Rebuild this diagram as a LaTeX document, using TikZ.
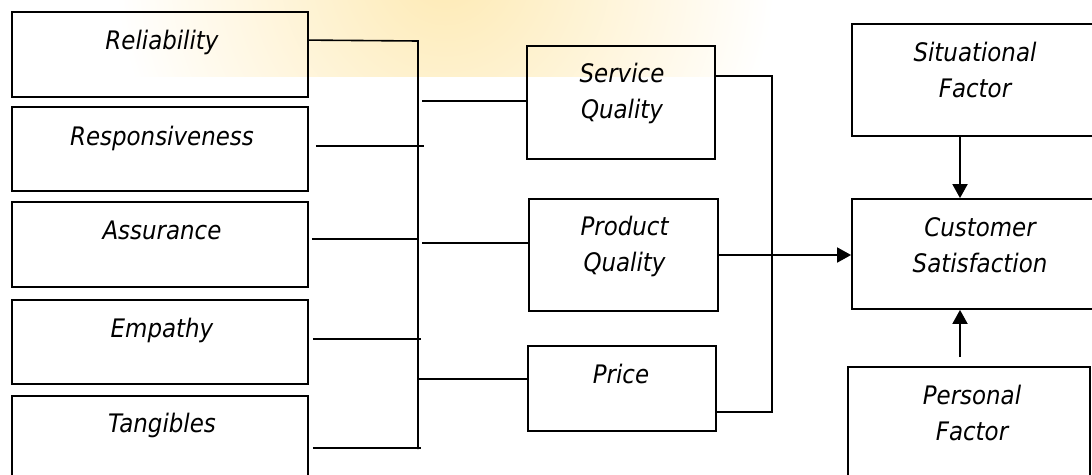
\documentclass[tikz,border=0pt]{standalone}
\usepackage{fontspec}
\setmainfont{DejaVu Sans Condensed}
\usetikzlibrary{arrows.meta,calc}
\definecolor{glowc}{RGB}{254,234,180}
\tikzset{
  box/.style={draw, line width=1.8pt, rectangle, inner sep=0pt},
  lbl/.style={anchor=base, inner sep=0pt, text width=260pt, align=center,
    font=\fontsize{25.5pt}{36.5pt}\selectfont\itshape},
  conn/.style={line width=1.6pt},
  arr/.style={line width=1.8pt, -{Triangle[length=14pt,width=15pt]}}
}
\begin{document}
\begin{tikzpicture}[x=1pt,y=-1pt]
\clip (0,0) rectangle (1092,474);
\useasboundingbox (0,0) rectangle (1092,474);
% background glow
\begin{scope}
\clip (110,0) rectangle (790,76);
\shade[inner color=glowc, outer color=white] (445,-30) circle [radius=330];
\end{scope}
% left boxes
\node[box, minimum width=296pt, minimum height=85pt] (rel)  at (160,54.5) {};
\node[box, minimum width=296pt, minimum height=84pt] (resp) at (160,149) {};
\node[box, minimum width=296pt, minimum height=85pt] (assu) at (160,244.5) {};
\node[box, minimum width=296pt, minimum height=84pt] (emp)  at (160,342) {};
\node[box, minimum width=296pt, minimum height=85pt] (tang) at (160,438.5) {};
% middle boxes
\node[box, minimum width=188pt, minimum height=113pt] (sq) at (621,102.5) {};
\node[box, minimum width=189pt, minimum height=112pt] (pq) at (623.5,255) {};
\node[box, minimum width=188pt, minimum height=85pt]  (pr) at (622,388.5) {};
% right boxes
\node[box, minimum width=256pt, minimum height=112pt] (sf) at (980,80) {};
\node[box, minimum width=256pt, minimum height=110pt] (cs) at (980,254) {};
\node[box, minimum width=242pt, minimum height=110pt] (pf) at (969,422) {};
% labels
\node[lbl] at ($(rel.north)+(2,38)$)  {Reliability};
\node[lbl] at ($(resp.north)+(2,39)$) {Responsiveness};
\node[lbl] at ($(assu.north)+(2,38)$) {Assurance};
\node[lbl] at ($(emp.north)+(2,38)$)  {Empathy};
\node[lbl] at ($(tang.north)+(2,37)$) {Tangibles};
\node[lbl] at ($(sq.north)+(1,37)$) {Service\\Quality};
\node[lbl] at ($(pq.north)+(1,37)$) {Product\\Quality};
\node[lbl] at ($(pr.north)+(-1,38)$) {Price};
\node[lbl] at ($(sf.north)+(-5,38)$) {Situational\\Factor};
\node[lbl] at ($(cs.north)+(0,38)$) {Customer\\Satisfaction};
\node[lbl] at ($(pf.north)+(3,38)$) {Personal\\Factor};
% left bus
\coordinate (bt) at (418,41);
\coordinate (bb) at (418,449);
\draw[conn] ($(rel.north east)+(0,29)$) -- (bt) -- (bb);
\draw[conn] ($(resp.north east)+(7,40)$) -- +(108,0);
\draw[conn] ($(assu.north east)+(3,38)$) -- +(107,0);
\draw[conn] ($(emp.north east)+(4,40)$) -- +(108,0);
\draw[conn] ($(tang.north east)+(4,53)$) -- +(108,0);
% bus to middle boxes
\coordinate (m1) at (422,101);
\coordinate (m2) at (422,243);
\coordinate (m3) at (418,379);
\draw[conn] (m1) -- (m1 -| sq.west);
\draw[conn] (m2) -- (m2 -| pq.west);
\draw[conn] (m3) -- (m3 -| pr.west);
% right bus
\coordinate (r1) at (772,76);
\coordinate (r2) at (772,412);
\draw[conn] (r1 -| sq.east) -- (r1) -- (r2) -- (r2 -| pr.east);
\draw[arr] (pq.east) -- (pq.east -| cs.west);
% vertical arrows
\coordinate (ax) at (960,0);
\draw[arr] (sf.south -| ax) -- (cs.north -| ax);
\draw[arr] ($(pf.north -| ax)+(0,-9)$) -- (cs.south -| ax);
\end{tikzpicture}
\end{document}
